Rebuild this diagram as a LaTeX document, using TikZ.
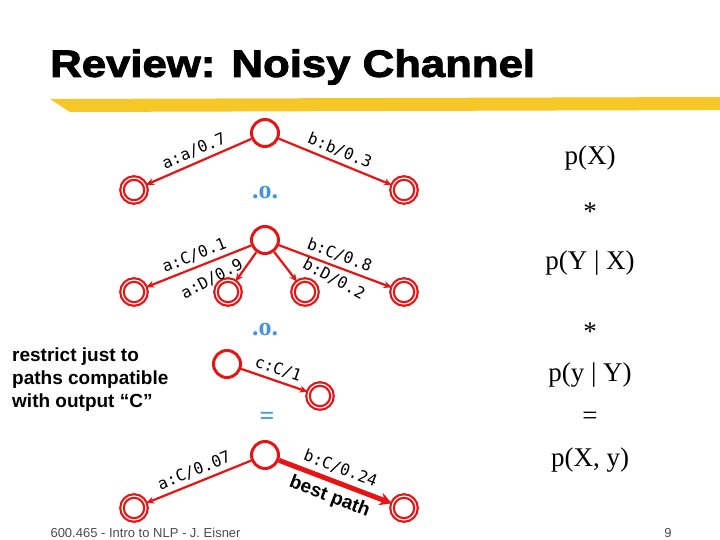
\documentclass[tikz,border=0pt]{standalone}
\usepackage{fontspec}
\setmainfont{Liberation Serif}
\newfontfamily\sansb{Liberation Sans}
\newfontfamily\titlef{Liberation Sans}[FakeStretch=1.15,FakeBold=2.5]
\newfontfamily\monof{DejaVu Sans Mono}
\usetikzlibrary{arrows.meta}
\definecolor{fsared}{RGB}{230,20,20}
\definecolor{opblue}{RGB}{70,150,220}
\definecolor{hl}{RGB}{245,200,40}
\begin{document}
\begin{tikzpicture}[x=1pt,y=-1pt,
  st/.style={circle,draw=fsared,line width=3pt,minimum size=27pt,inner sep=0pt},
  fin/.style={circle,draw=fsared,line width=2.2pt,double=white,double distance=1.2pt,minimum size=24pt,inner sep=0pt},
  ed/.style={draw=fsared,line width=2.2pt,-{Stealth[length=8pt,width=7pt]}},
  lab/.style={font=\monof\fontsize{16}{16}\selectfont,sloped,above,inner sep=4pt},
  lfree/.style={font=\monof\fontsize{16}{16}\selectfont},
  op/.style={text=opblue,font=\bfseries\fontsize{26}{26}\selectfont},
  rt/.style={font=\fontsize{27}{27}\selectfont}]
\useasboundingbox (0,0) rectangle (720,540);
\fill[white] (0,0) rectangle (720,540);
\fill[hl] (50,99) -- (720,97) -- (720,110) -- (70,112) -- cycle;
\node[anchor=west,font=\titlef\bfseries\fontsize{38}{38}\selectfont,inner sep=0pt] (title) at (50,67) {Review: Noisy Channel};
% FSA 1
\node[st] (s1) at (265,133) {};
\node[fin] (f1a) at (134,190) {};
\node[fin] (f1b) at (404,190) {};
\draw[ed] (s1) -- node[lab]{a:a/0.7} (f1a);
\draw[ed] (s1) -- node[lab]{b:b/0.3} (f1b);
\node[op] (o1) at (265,193) {.o.};
% FSA 2
\node[st] (s2) at (265,240) {};
\node[fin] (f2a) at (134,292) {};
\node[fin] (f2b) at (228,292) {};
\node[fin] (f2c) at (305,292) {};
\node[fin] (f2d) at (404,292) {};
\draw[ed] (s2) -- node[lab]{a:C/0.1} (f2a);
\draw[ed] (s2) -- (f2b);
\draw[ed] (s2) -- node[lab]{b:C/0.8} (f2d);
\draw[ed] (s2) -- (f2c);
\node[lfree,rotate=28] (l2b) at (212,279) {a:D/0.9};
\node[lfree,rotate=-28] (l2c) at (334,279) {b:D/0.2};
\node[op] (o2) at (265,330) {.o.};
% FSA 3
\node[st] (s3) at (227,364) {};
\node[fin] (f3) at (320,396) {};
\draw[ed] (s3) -- node[lab]{c:C/1} (f3);
\node[op] (eq) at (267,418) {=};
% FSA 4
\node[st] (s4) at (265,455) {};
\node[fin] (f4a) at (134,508) {};
\node[fin] (f4b) at (404,508) {};
\draw[ed] (s4) -- node[lab]{a:C/0.07} (f4a);
\draw[draw=fsared,line width=5pt,-{Stealth[length=12pt,width=13pt]}] (s4) -- node[lab,inner sep=5pt]{b:C/0.24} node[sloped,below,font=\sansb\bfseries\fontsize{19}{19}\selectfont,inner sep=5pt]{best path} (f4b);
% left note
\node[anchor=north west,align=left,font=\sansb\bfseries\fontsize{19}{23}\selectfont,inner sep=0pt] (note) at (12,348) {restrict just to\\paths compatible\\with output “C”};
% right column
\node[rt] (r1) at (590,158) {p(X)};
\node[rt] (r2) at (590,212) {*};
\node[rt] (r3) at (590,263) {p(Y | X)};
\node[rt] (r4) at (590,332) {*};
\node[rt] (r5) at (590,375) {p(y | Y)};
\node[rt] (r6) at (590,418) {=};
\node[rt] (r7) at (590,460) {p(X, y)};
% footer
\node[anchor=west,font=\sansb\fontsize{13}{13}\selectfont,text=black!70] (foot) at (47,533) {600.465 - Intro to NLP - J. Eisner};
\node[font=\sansb\fontsize{13}{13}\selectfont,text=black!70] (pg) at (668,533) {9};
\end{tikzpicture}
\end{document}
